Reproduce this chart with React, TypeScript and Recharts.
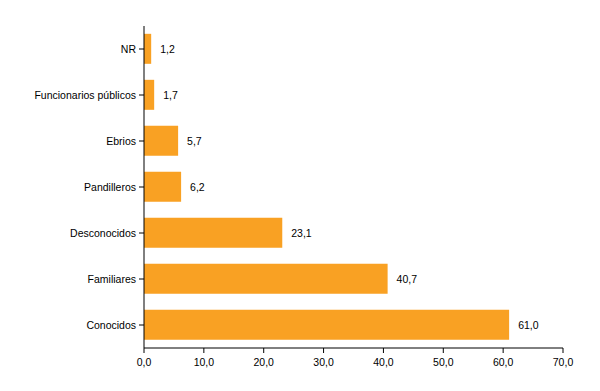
import React from 'react';
import { BarChart, Bar, XAxis, YAxis, LabelList } from 'recharts';

const categories = ['NR', 'Funcionarios públicos', 'Ebrios', 'Pandilleros', 'Desconocidos', 'Familiares', 'Conocidos'];
const values = [1.2, 1.7, 5.7, 6.2, 23.1, 40.7, 61.0];
const xTicks = [0, 10, 20, 30, 40, 50, 60, 70];

const data = categories.map((name, i) => ({ name, value: values[i] }));
const fmt = (v: number) => Number(v).toFixed(1).replace('.', ',');
const font = 'Liberation Sans, Arial, sans-serif';

export default function App() {
  return (
    <div style={{ position: 'absolute', left: 0, top: 0 }}>
      <BarChart
        width={600}
        height={391}
        data={data}
        layout="vertical"
        margin={{ top: 26, right: 37, bottom: 13, left: 0 }}
        barCategoryGap="17%"
      >
        <XAxis
          type="number"
          domain={[0, 70]}
          ticks={xTicks}
          tickFormatter={fmt}
          axisLine={{ stroke: '#000' }}
          tickLine={{ stroke: '#000' }}
          tickSize={5}
          tickMargin={6}
          height={30}
          interval={0}
          tick={{ fill: '#000', fontSize: 10.5, fontFamily: font }}
        />
        <YAxis
          type="category"
          dataKey="name"
          width={144}
          axisLine={{ stroke: '#000' }}
          tickLine={{ stroke: '#000' }}
          tickSize={5}
          tickMargin={3}
          interval={0}
          tick={{ fill: '#000', fontSize: 10.5, fontFamily: font }}
        />
        <Bar dataKey="value" fill="#F9A123" isAnimationActive={false}>
          <LabelList
            dataKey="value"
            position="right"
            offset={9}
            formatter={fmt}
            style={{ fill: '#000', fontSize: 10.5, fontFamily: font }}
          />
        </Bar>
      </BarChart>
    </div>
  );
}
